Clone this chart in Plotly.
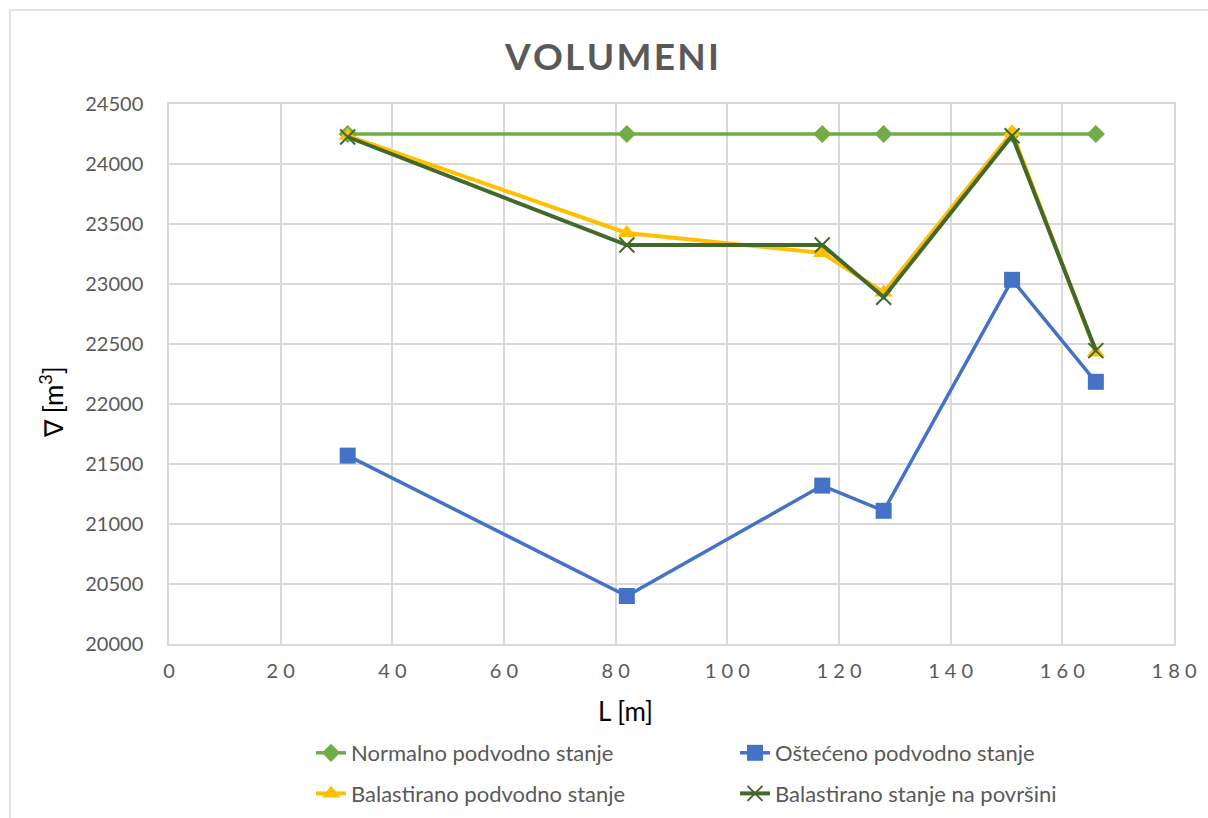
import plotly.graph_objects as go

L = [32, 82, 117, 128, 151, 166]
normalno = [24250, 24250, 24250, 24250, 24250, 24250]
osteceno = [21570, 20400, 21320, 21110, 23035, 22185]
balast_podvodno = [24235, 23425, 23258, 22930, 24265, 22430]
balast_povrsina = [24225, 23325, 23325, 22890, 24235, 22445]

names = ["Normalno podvodno stanje", "Oštećeno podvodno stanje",
         "Balastirano podvodno stanje", "Balastirano stanje na površini"]

x_ticks = list(range(0, 181, 20))
y_ticks = list(range(20000, 24501, 500))

FONT = "Lato, 'Open Sans', sans-serif"
W, H = 1208, 818
ML, MR, MT, MB = 169, 34, 104, 174
PW, PH = W - ML - MR, H - MT - MB

fig = go.Figure()
fig.add_trace(go.Scatter(x=L, y=normalno, name=names[0], mode="lines+markers",
                         line=dict(color="#70ad47", width=3.5),
                         marker=dict(symbol="diamond", size=14, color="#70ad47"),
                         legend="legend", legendgroup="a"))
fig.add_trace(go.Scatter(x=L, y=osteceno, name=names[1], mode="lines+markers",
                         line=dict(color="#4472c4", width=3.5),
                         marker=dict(symbol="square", size=16, color="#4472c4"),
                         legend="legend2", legendgroup="b"))
fig.add_trace(go.Scatter(x=L, y=balast_podvodno, name=names[2], mode="lines+markers",
                         line=dict(color="#ffc000", width=4),
                         marker=dict(symbol="triangle-up", size=16, color="#ffc000"),
                         legend="legend", legendgroup="c"))
fig.add_trace(go.Scatter(x=L, y=balast_povrsina, name=names[3], mode="lines+markers",
                         line=dict(color="#43682b", width=4),
                         marker=dict(symbol="x-thin", size=15,
                                     line=dict(color="#43682b", width=2)),
                         legend="legend2", legendgroup="d"))

def px_x(p):
    return (p - ML) / PW

def px_y(p):
    return 1 - (p - MT) / PH

legend_common = dict(orientation="v", xanchor="left", yanchor="top",
                     font=dict(family=FONT, size=22, color="#595959"),
                     bgcolor="rgba(0,0,0,0)", traceorder="grouped",
                     tracegroupgap=9, itemwidth=30)

hs = "\u200a"
fig.update_layout(
    width=W, height=H,
    margin=dict(l=ML, r=MR, t=MT, b=MB, autoexpand=False),
    paper_bgcolor="white", plot_bgcolor="white",
    title=dict(text="<b>" + hs.join("VOLUMENI") + "</b>", xref="container",
               x=612 / W, xanchor="center",
               yref="container", y=1 - 57 / H, yanchor="middle",
               font=dict(family=FONT, size=37, color="#595959")),
    xaxis=dict(range=[0, 180], tickvals=x_ticks,
               ticktext=[" ".join(str(v)) for v in x_ticks],
               showgrid=True, gridcolor="#d9d9d9", gridwidth=1.5,
               zeroline=False, showline=True, linecolor="#d9d9d9", linewidth=1.5,
               mirror=True, ticks="", ticklen=0, ticklabelstandoff=8,
               tickfont=dict(family=FONT, size=20, color="#595959")),
    yaxis=dict(range=[20000, 24500], tickvals=y_ticks, tickformat="d",
               showgrid=True, gridcolor="#d9d9d9", gridwidth=1.5,
               zeroline=False, showline=True, linecolor="#d9d9d9", linewidth=1.5,
               mirror=True, ticks="", ticklen=0, ticklabelstandoff=20,
               tickfont=dict(family=FONT, size=20, color="#595959")),
    legend=dict(x=px_x(311), y=px_y(732), **legend_common),
    legend2=dict(x=px_x(735), y=px_y(732), **legend_common),
    showlegend=True,
    annotations=[
        dict(text="L [m]", xref="paper", yref="paper", x=px_x(625), y=px_y(711),
             xanchor="center", yanchor="middle", showarrow=False,
             font=dict(family=FONT, size=26, color="black")),
        dict(text="∇ [m<sup>3</sup>]", xref="paper", yref="paper", x=px_x(51), y=px_y(402),
             xanchor="center", yanchor="middle", showarrow=False, textangle=-90,
             font=dict(family=FONT, size=26, color="black")),
    ],
    shapes=[dict(type="rect", xref="paper", yref="paper",
                 x0=px_x(10), x1=px_x(1215), y0=px_y(10), y1=px_y(830),
                 line=dict(color="#d9d9d9", width=1.5), layer="below")],
)

fig.write_html("out.html", config={"displayModeBar": False},
               post_script="document.body.style.margin='0';")
